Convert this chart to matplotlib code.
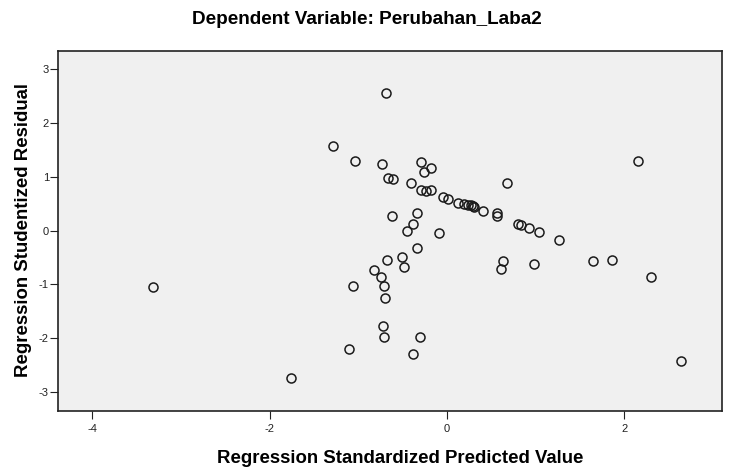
import matplotlib
matplotlib.use("Agg")
import matplotlib.pyplot as plt

plt.rcParams['font.family'] = ['Liberation Sans', 'DejaVu Sans']
plt.rcParams['axes.unicode_minus'] = False

title = "Dependent Variable: Perubahan_Laba2"
x_label = "Regression Standardized Predicted Value"
y_label = "Regression Studentized Residual"

pred = [-3.315, -1.759, -1.285, -1.04, -1.06, -1.10, -0.82, -0.744, -0.73, -0.714,
        -0.70, -0.718, -0.71, -0.688, -0.676, -0.669, -0.609, -0.624, -0.51, -0.485,
        -0.455, -0.406, -0.383, -0.383, -0.338, -0.335, -0.31, -0.297, -0.297, -0.256,
        -0.237, -0.177, -0.177, -0.094, -0.048, 0.011, 0.12, 0.19, 0.24, 0.27,
        0.29, 0.30, 0.41, 0.56, 0.56, 0.673, 0.80, 0.83, 0.92, 1.037,
        1.266, 0.635, 0.612, 0.98, 1.65, 1.864, 2.157, 2.30, 2.64]
resid = [-1.05, -2.73, 1.574, 1.30, -1.02, -2.20, -0.73, -0.86, 1.24, -1.02,
         -1.26, -1.77, -1.98, 2.565, -0.545, 0.985, 0.96, 0.28, -0.49, -0.68,
         -0.005, 0.88, 0.125, -2.30, -0.316, 0.32, -1.98, 1.27, 0.757, 1.09,
         0.744, 1.16, 0.75, -0.037, 0.62, 0.595, 0.52, 0.50, 0.478, 0.47,
         0.46, 0.446, 0.37, 0.32, 0.28, 0.88, 0.13, 0.11, 0.056, -0.018,
         -0.18, -0.563, -0.72, -0.62, -0.57, -0.55, 1.30, -0.866, -2.42]

x_ticks = [-4, -2, 0, 2]
y_ticks = [-3, -2, -1, 0, 1, 2, 3]

fig = plt.figure(figsize=(7.34, 4.73), dpi=100)
ax = fig.add_axes([58/734, 1 - 410.7/473, (722-58)/734, (410.7-51)/473])
ax.set_facecolor('#F0F0F0')
ax.plot(pred, resid, linestyle='none', marker='o', markersize=6.5,
        markerfacecolor='none', markeredgecolor='#1a1a1a', markeredgewidth=1.1)
ax.set_xlim(-4.386, 3.10)
ax.set_ylim(-3.346, 3.34)
ax.set_xticks(x_ticks)
ax.set_yticks(y_ticks)
ax.tick_params(axis='x', direction='out', length=5.5, width=0.8, labelsize=8, pad=4, colors='#222222')
ax.tick_params(axis='y', direction='out', length=5.5, width=0.8, labelsize=8, pad=1, colors='#222222')
for s in ax.spines.values():
    s.set_color('#222222')
    s.set_linewidth(1.2)
ax.set_xlabel(x_label, fontsize=13.4, fontweight='bold', va='center')
ax.set_ylabel(y_label, fontsize=13.4, fontweight='bold', va='center')
ax.xaxis.set_label_coords((400 - 58) / 664, (15 - 62.3) / 359.7)
ax.yaxis.set_label_coords((24 - 58) / 664, (473 - 230 - 62.3) / 359.7)
fig.text(0.5, 1 - 19.5/473, title, ha='center', va='center', fontsize=13.6, fontweight='bold')

fig.savefig('out.png', dpi=100)
